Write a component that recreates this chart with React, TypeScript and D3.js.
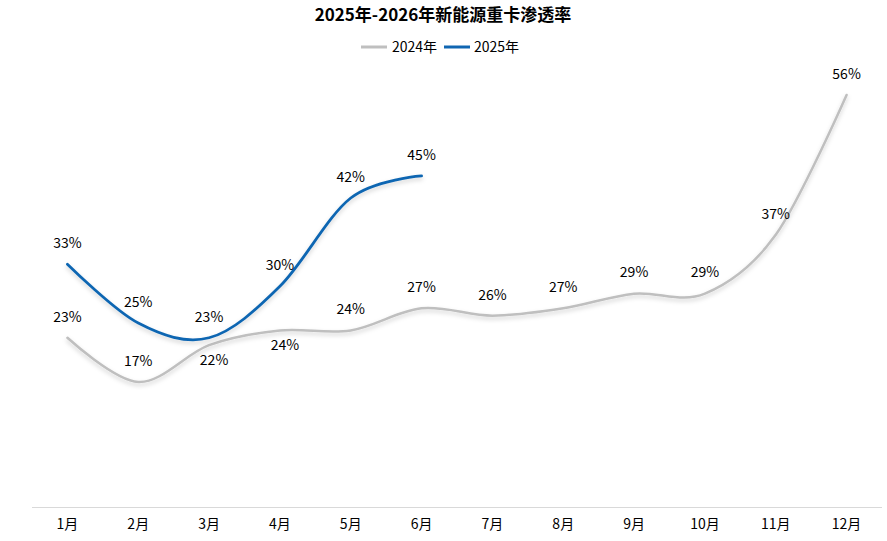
import React from "react";
import * as d3 from "d3";

const months = ["1月", "2月", "3月", "4月", "5月", "6月", "7月", "8月", "9月", "10月", "11月", "12月"];
const series2024 = [23, 17, 22, 24, 24, 27, 26, 27, 29, 29, 37, 56];
const series2025 = [33, 25, 23, 30, 42, 45];
// label placement: 1 = above, -1 = below
const pos2024 = [1, 1, -1, -1, 1, 1, 1, 1, 1, 1, 1, 1];
const pos2025 = [1, 1, 1, 1, 1, 1];

const W = 887;
const H = 541;
const FONT = "'Noto Sans CJK SC', 'Noto Sans', sans-serif";
const GRAY = "#BFBFBF";
const BLUE = "#1066B2";

export default function App() {
  const x = d3.scaleBand<string>().domain(months).range([32, 882]);
  const y = d3.scaleLinear().domain([0, 56]).range([507, 95]);
  const cx = (i: number) => (x(months[i]) as number) + x.bandwidth() / 2;
  const line = d3
    .line<number>()
    .x((_, i) => cx(i))
    .y((d) => y(d))
    .curve(d3.curveCardinal.tension(0));

  const labels = (data: number[], pos: number[], key: string) =>
    data.map((v, i) => (
      <text
        key={key + i}
        x={cx(i) + (pos[i] < 0 ? 5 : 0)}
        y={y(v) + (pos[i] > 0 ? -20 : 16)}
        textAnchor="middle"
        dominantBaseline="middle"
        fontSize={14}
        fill="#000"
      >
        {v}%
      </text>
    ));

  return (
    <svg
      width={W}
      height={H}
      style={{ position: "absolute", left: 0, top: 0, background: "#fff" }}
      fontFamily={FONT}
    >
      <defs>
        <filter id="sh" x="-10%" y="-10%" width="120%" height="130%">
          <feDropShadow dx="0" dy="2.5" stdDeviation="2" floodColor="#000" floodOpacity="0.18" />
        </filter>
      </defs>
      <text x={443} y={16} textAnchor="middle" dominantBaseline="middle" fontSize={17} fontWeight="bold">
        2025年-2026年新能源重卡渗透率
      </text>
      {/* legend */}
      <line x1={361} x2={387} y1={47} y2={47} stroke={GRAY} strokeWidth={3} />
      <text x={392} y={48} dominantBaseline="middle" fontSize={14}>2024年</text>
      <line x1={444} x2={470} y1={47} y2={47} stroke={BLUE} strokeWidth={3} />
      <text x={474} y={48} dominantBaseline="middle" fontSize={14}>2025年</text>

      {/* axis */}
      <line x1={32} x2={882} y1={507.5} y2={507.5} stroke="#D9D9D9" strokeWidth={1} />
      {months.map((m, i) => (
        <text key={m} x={cx(i)} y={525} textAnchor="middle" dominantBaseline="middle" fontSize={14}>
          {m}
        </text>
      ))}

      <path d={line(series2024) || ""} fill="none" stroke={GRAY} strokeWidth={2.5} strokeLinecap="round" filter="url(#sh)" />
      <path d={line(series2025) || ""} fill="none" stroke={BLUE} strokeWidth={2.75} strokeLinecap="round" filter="url(#sh)" />

      {labels(series2024, pos2024, "a")}
      {labels(series2025, pos2025, "b")}
    </svg>
  );
}
